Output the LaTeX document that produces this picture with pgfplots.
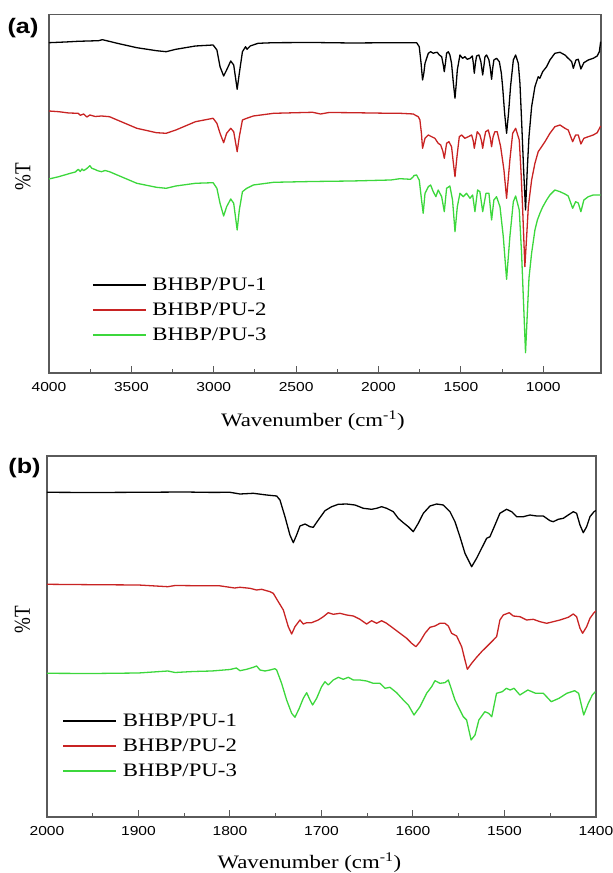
\documentclass[border=0pt]{standalone}
\usepackage{fontspec}
\setmainfont{Liberation Serif}[FakeStretch=1.2]
\newfontfamily\tickfont{Liberation Sans}[FakeStretch=1.2]
\newfontfamily\plainserif{Liberation Serif}
\usepackage{graphicx}
\usepackage{pgfplots}
\pgfplotsset{compat=1.18}
\definecolor{cred}{RGB}{200,35,35}
\definecolor{cgreen}{RGB}{60,215,60}
\definecolor{frame}{RGB}{90,90,90}
\pgfplotsset{myax/.style={
  scale only axis, x dir=reverse,
  axis line style={frame, line width=1.1pt},
  ytick=\empty, xtick pos=left, tick align=inside,
  major tick length=7pt, minor tick length=4pt,
  tick style={frame, line width=1pt},
  xticklabel style={font=\fontsize{13}{15}\selectfont\tickfont, yshift=-5.5pt},
  /pgf/number format/assume math mode=true, /pgf/number format/1000 sep={},
  legend style={draw=none, fill=none, inner sep=0pt, outer sep=0pt, row sep=12pt,
     nodes={inner sep=0pt, text height=12.5pt, text depth=0.5pt},
     font=\fontsize{19}{22}\selectfont},
  legend cell align=left,
  legend image code/.code={\draw[##1, line width=1.6pt] (0pt,0pt) -- (53pt,0pt); \path (59pt,0pt);},
  label style={font=\fontsize{19}{22}\selectfont},
  every axis plot/.append style={line width=1.3pt, line join=round},
}}
\begin{document}
\begin{tikzpicture}
\useasboundingbox (0,0) rectangle (613pt,873pt);
\begin{axis}[myax, name=A, at={(49pt,500pt)}, anchor=south west,
  width=552pt, height=358.7pt,
  xmin=650, xmax=4000, ymin=0, ymax=358.7,
  xtick={1000,1500,...,4000}, minor x tick num=1,
  xlabel={Wavenumber (cm\textsuperscript{-1})},
  xlabel style={at={(axis description cs:0.478,-0.1478)}, anchor=base},
  ylabel={\scalebox{1}[1.2]{\plainserif\%T}},
  ylabel style={at={(axis description cs:-0.0471,0.547)}, anchor=center},
  legend style={at={(axis description cs:0.0779,0.264)}, anchor=north west}]
\addplot[black] table {
4000 330.3
3900 331
3823 331.7
3700 332.3
3676 333.3
3650 332.3
3586 329.7
3467 325.3
3348 322.3
3289 321.3
3230 323.7
3111 327
3004 328
2981 323
2962 306.3
2940 297
2922 303
2897 312
2879 308
2858 283.7
2845 299.7
2826 321.3
2807 326.3
2798 323.7
2779 327
2731 329.7
2636 330.3
2400 330.5
2163 330
1900 330.3
1783 330.3
1769 330.3
1753 326.3
1742 310
1733 293
1725 300
1718 309.7
1698 319.7
1684 321.3
1668 319.7
1658 320.3
1644 320.7
1631 318
1617 316.3
1607 308
1601 301.3
1594 310
1587 319.7
1577 321.3
1567 318
1557 309.7
1546 290
1536 274.7
1528 290
1522 303
1506 318
1490 314.7
1476 316.3
1462 313.7
1445 314.7
1431 317
1425 310
1419 299.7
1412 310
1405 317
1391 318
1379 311.3
1368 298
1360 308
1354 316.3
1344 318
1330 313
1322 305
1314 293.7
1307 305
1300 313
1284 314.7
1267 311.3
1255 300
1247 286.3
1235 260
1223 239.7
1211 260
1199 286.3
1182 313
1168 318
1152 309.7
1142 290
1132 253
1120 205
1108 163
1097 205
1087 236.3
1071 266.3
1051 286.3
1031 296.3
1021 294.7
1004 301.3
980 306.3
960 313
930 319.7
899 320.7
869 318
849 314.7
828 311.3
818 304.7
802 313
788 313.7
772 304
754 310.3
727 313
697 314.7
673 317
660 321.3
652 331.3
};
\addlegendentry{BHBP/PU-1}
\addplot[cred] table {
4000 262
3941 261.3
3880 260
3823 259.7
3810 257.7
3790 259
3770 256
3752 258
3720 256.5
3681 257
3633 256.3
3586 253
3467 244.7
3348 240.3
3289 239.7
3230 243
3111 251.3
3004 254.7
2981 249.7
2962 239.7
2940 230.3
2922 239.7
2897 244.7
2879 241.3
2858 221.3
2845 236.3
2826 253
2800 254.7
2760 257
2636 259.7
2400 260.7
2352 259
2300 260.5
2163 260.3
1925 259.7
1870 259.7
1789 259
1779 258
1759 256.3
1749 253
1740 240
1733 224.7
1725 230
1718 234.7
1698 238
1678 236.3
1658 234.7
1638 229.7
1623 228
1610 222
1601 214.7
1594 222
1587 229.7
1573 231.3
1557 226.3
1546 210
1536 196.3
1525 215
1510 236.3
1496 238
1476 234.7
1455 236.3
1435 238
1425 232
1419 224.7
1410 233
1401 241.3
1385 238
1375 232
1368 224.7
1360 233
1350 241.3
1334 243
1322 235
1314 226.3
1305 236
1294 241.3
1280 241.3
1259 226.3
1239 203
1223 174.7
1203 213
1186 239.7
1168 244.7
1146 233
1135 200
1126 166.3
1112 106.3
1100 140
1091 166.3
1071 193
1051 209.7
1031 221.3
1017 224.7
990 231.3
960 239.7
930 246.3
899 248
869 244.7
849 243
822 231.3
804 238
788 238
772 229
754 234.7
727 236.3
697 238
673 240.3
652 247
};
\addlegendentry{BHBP/PU-2}
\addplot[cgreen] table {
4000 194
3941 196.3
3870 199.7
3840 201
3823 203.7
3810 201.5
3800 204
3790 202.3
3770 204.5
3752 207.3
3740 204.7
3720 203.5
3705 202.3
3681 201.3
3660 202.5
3633 201.3
3586 198
3467 189.7
3348 185.7
3289 184.7
3230 187
3111 189.7
3004 190.3
2981 184.7
2962 169.7
2940 157
2922 166.3
2897 174
2879 169.7
2858 143
2845 163
2826 181.3
2800 184.7
2760 188
2636 190.7
2400 191.5
2163 192
1925 193
1870 194.3
1806 193.7
1789 196.3
1785 197.5
1769 198
1760 195
1753 193
1739 173
1729 159.7
1718 179.7
1698 186.3
1684 188
1668 181.3
1652 176.3
1638 183
1617 176.3
1601 161.3
1587 184.7
1567 187
1551 173
1536 141.3
1522 166.3
1506 179.7
1486 176.3
1466 179.7
1445 174.7
1429 178
1415 161.3
1399 183
1385 181.3
1368 161.3
1348 179.7
1330 179.7
1314 153
1300 173
1284 176.3
1263 166.3
1243 136.3
1223 93.7
1203 136.3
1182 171.3
1168 177
1146 163
1132 119.7
1120 70
1108 20.3
1097 60
1087 95
1071 120
1051 143
1036 153
1020 160
1004 166
980 173
960 178
930 183
899 181.3
869 179
849 177
822 164.7
804 171.3
788 170
772 161.3
754 173
727 176.3
697 178
673 178
652 178
};
\addlegendentry{BHBP/PU-3}
\end{axis}
\begin{axis}[myax, name=B, at={(47pt,56pt)}, anchor=south west,
  width=549pt, height=361pt,
  xmin=1400, xmax=2000, ymin=0, ymax=361,
  xtick={1400,1500,...,2000}, minor x tick num=1,
  xlabel={Wavenumber (cm\textsuperscript{-1})},
  xlabel style={at={(axis description cs:0.478,-0.1413)}, anchor=base},
  ylabel={\scalebox{1}[1.2]{\plainserif\%T}},
  ylabel style={at={(axis description cs:-0.0446,0.546)}, anchor=center},
  legend style={at={(axis description cs:0.0282,0.284)}, anchor=north west}]
\addplot[black] table {
2000 324.7
1950 324.5
1900 324.7
1850 325
1820 324.6
1800 324.7
1789.1 323
1774.5 323.7
1760 322
1749 321
1745.4 317
1739.9 300.3
1734.5 282
1730.8 274.3
1727.2 282
1723.5 291
1718 293
1712.6 290.3
1709 289.7
1703.5 297
1696.2 306.3
1688.9 310.3
1681.6 312.7
1672.5 313
1663.4 312
1654.3 308.7
1645.2 307.7
1639.7 308.7
1634.3 310.3
1628.8 308.7
1621.5 305.3
1616.1 298.7
1610.6 294.3
1605.1 290.3
1599.7 285.3
1594.2 293.7
1588.7 303.7
1581.4 311
1574.2 313
1566.9 312
1559.6 305.3
1554.1 295.3
1548.7 280.3
1543.2 263.7
1535.9 250.3
1530.5 258.7
1525 268.7
1519.5 278.7
1515.9 280.3
1510.4 292
1505 303.7
1497.7 307.7
1492.2 305.3
1486.7 300.3
1479.4 300.3
1472.2 302
1464.9 301
1457.6 301
1450.3 296.3
1446.7 295.3
1441.2 297.7
1435.7 298.7
1430.3 302
1424.8 305.3
1421.2 303.7
1417.5 292
1413.9 284.3
1410.2 290.3
1406.6 300.3
1402.2 305.3
1400 306.5
};
\addlegendentry{BHBP/PU-1}
\addplot[cred] table {
2000 232.7
1950 232.3
1900 232
1868 230.3
1860 231.5
1838 231.3
1812 231.3
1795 229
1789.1 229.7
1778.2 228.7
1770.9 227
1765.4 227.7
1756.3 225.3
1752.7 223.7
1747.2 215.3
1741.7 207
1736.3 190.3
1732.6 183
1729 190.3
1723.5 197
1719.9 193
1716.2 194.3
1710.8 194.3
1703.5 197
1698 200.3
1692.6 204.3
1687.1 202.7
1679.8 203.7
1672.5 202
1665.2 201
1658 197.7
1650.7 193
1645.2 196.3
1639.7 193.7
1634.3 196.3
1628.8 193.7
1621.5 188.7
1614.2 183.7
1606.9 178.7
1601.5 173.7
1596.8 170.3
1592.4 175.3
1586.9 183.7
1581.4 189.7
1576 191
1570.5 193.7
1565.1 193.7
1561.4 191
1557.8 183.7
1552.3 181
1546.8 170.3
1543.2 157
1540.6 147.7
1535.9 153.7
1530.5 159.7
1525 165.3
1519.5 170.3
1512.2 177
1508.6 180.3
1505 197
1501.3 202
1494.8 204.3
1490.4 201
1483.1 200.3
1475.8 197
1468.5 197.7
1461.2 195.3
1453.9 193.7
1446.7 195.3
1439.4 197
1430.3 199.7
1424.8 203
1421.2 200.3
1417.5 188.7
1414.6 183.7
1410.2 190.3
1406.6 198.7
1402.2 204.3
1400 206
};
\addlegendentry{BHBP/PU-2}
\addplot[cgreen] table {
2000 143.7
1950 143.5
1900 144
1868 146
1860 144.5
1840 145.5
1820 146
1800 147.5
1793 149
1789.1 146.3
1781.8 147.7
1774.5 149.7
1770.9 151
1767.2 147
1761.8 146
1756.3 147
1750.9 148.3
1749 147
1743.6 133.7
1738.1 117
1732.6 103.7
1729 99.7
1724.3 108.7
1719.9 118.7
1716.2 124.3
1712.6 117
1709.7 112
1705.3 118.7
1699.9 130.3
1696.2 135.3
1692.6 132
1687.1 137
1681.6 139.7
1676.2 137.7
1670.7 139.7
1665.2 137
1658 137
1650.7 136
1643.4 133.7
1636.1 133.7
1630.6 128.7
1625.2 129.7
1617.9 124.3
1610.6 117
1605.1 112
1598.9 102
1592.4 110.3
1585.1 123.7
1579.6 130.3
1576 136.3
1570.5 133.7
1565.1 134.3
1561.4 137
1558.9 130.3
1554.1 117
1548.7 107
1545 100.3
1541.4 97
1536.5 77
1532.2 82
1528 97
1521.5 105.3
1517.3 103.7
1513.9 100.3
1508.7 123.7
1502.4 125.3
1498 128.7
1493.8 127
1489.5 128.7
1483.2 122
1474.5 127
1466 123.7
1457.5 123.7
1448.9 115.3
1440.4 118.7
1431.9 123.7
1423.3 126.3
1419 123.7
1413.4 102
1408.4 113.7
1404 122
1400.7 125.3
};
\addlegendentry{BHBP/PU-3}
\end{axis}
\node[font=\fontsize{21}{24}\selectfont\tickfont\bfseries, anchor=center]
  at ([xshift=-26pt,yshift=-13.7pt]A.north west) {(a)};
\node[font=\fontsize{21}{24}\selectfont\tickfont\bfseries, anchor=center]
  at ([xshift=-22.5pt,yshift=-12pt]B.north west) {(b)};
\end{tikzpicture}
\end{document}
